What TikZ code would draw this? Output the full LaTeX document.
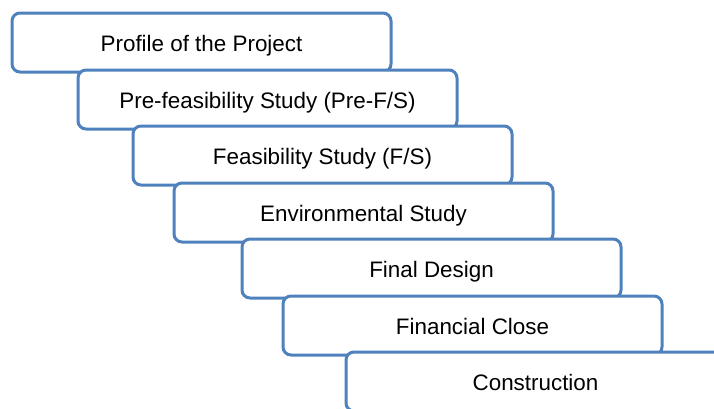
\documentclass[tikz,border=0pt]{standalone}
\usepackage{fontspec}
\setmainfont{Liberation Sans}
\definecolor{stageblue}{HTML}{4F81BD}

\begin{document}
\begin{tikzpicture}[x=1pt, y=-1pt,
  stage/.style={draw=stageblue, line width=3pt, fill=white,
    rounded corners=8pt, minimum width=379pt, minimum height=59pt,
    inner sep=0pt, text height=18pt, text depth=0pt,
    font=\fontsize{22.4}{26}\selectfont}]
  % Page frame: the last stage runs off the right and bottom edges
  \clip (0,0) rectangle (714,408);
  % Staircase of project stages, each box drawn over the one above it
  %   \x = left edge, \y = top edge
  \foreach \i/\x/\y/\name in {
      1/12/13/{Profile of the Project},
      2/78/70/{Pre-feasibility Study (Pre-F/S)},
      3/133/126/{Feasibility Study (F/S)},
      4/174/183/{Environmental Study},
      5/242/239/{Final Design},
      6/283/296/{Financial Close},
      7/346/352/{Construction}} {
    \node[stage] (stage\i) at (\x+189.5, \y+29.5) {\name};
  }
\end{tikzpicture}
\end{document}
